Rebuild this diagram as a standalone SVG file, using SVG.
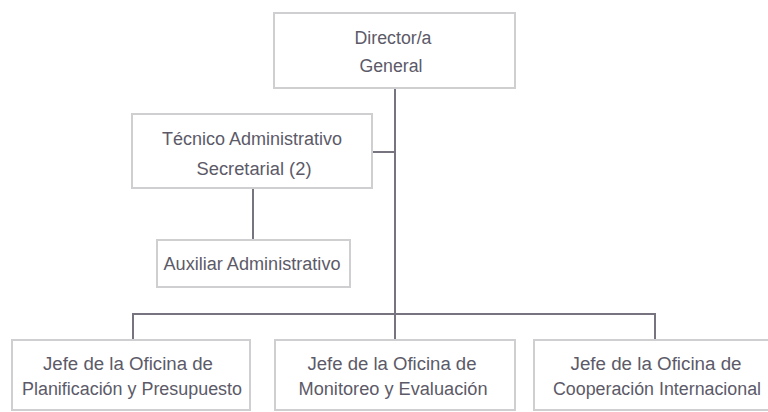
<svg xmlns="http://www.w3.org/2000/svg" width="768" height="412" viewBox="0 0 768 412">
<style>
.box{fill:#ffffff;stroke:#cfcfd2;stroke-width:2}
.ln{fill:none;stroke:#77737f;stroke-width:2}
.t{font-family:"Liberation Sans",Arial,sans-serif;font-size:18px;fill:#5c5a68;text-anchor:middle}
</style>
<rect width="768" height="412" fill="#ffffff"/>
<g id="connectors">
<path class="ln" d="M395 88 V340"/>
<path class="ln" d="M372 152 H395"/>
<path class="ln" d="M253 188 V240"/>
<path class="ln" d="M133 340 V314 H655 V340"/>
</g>
<g id="director">
<rect class="box" x="274" y="13" width="241" height="75"/>
<text class="t" x="393" y="44" textLength="77" lengthAdjust="spacingAndGlyphs">Director/a</text>
<text class="t" x="391" y="72" textLength="63" lengthAdjust="spacingAndGlyphs">General</text>
</g>
<g id="tecnico">
<rect class="box" x="132" y="114" width="240" height="74"/>
<text class="t" x="252" y="145" textLength="180" lengthAdjust="spacingAndGlyphs">Técnico Administrativo</text>
<text class="t" x="254" y="175" textLength="115" lengthAdjust="spacingAndGlyphs">Secretarial (2)</text>
</g>
<g id="auxiliar">
<rect class="box" x="157" y="240" width="193" height="47"/>
<text class="t" x="252" y="270" textLength="177" lengthAdjust="spacingAndGlyphs">Auxiliar Administrativo</text>
</g>
<g id="planificacion">
<rect class="box" x="12" y="340" width="238" height="70"/>
<text class="t" x="128" y="370" textLength="170" lengthAdjust="spacingAndGlyphs">Jefe de la Oficina de</text>
<text class="t" x="132" y="395" textLength="220" lengthAdjust="spacingAndGlyphs">Planificación y Presupuesto</text>
</g>
<g id="monitoreo">
<rect class="box" x="275" y="340" width="240" height="70"/>
<text class="t" x="392" y="370" textLength="169" lengthAdjust="spacingAndGlyphs">Jefe de la Oficina de</text>
<text class="t" x="393" y="395" textLength="189" lengthAdjust="spacingAndGlyphs">Monitoreo y Evaluación</text>
</g>
<g id="cooperacion">
<rect class="box" x="534" y="340" width="240" height="70"/>
<text class="t" x="656" y="370" textLength="171" lengthAdjust="spacingAndGlyphs">Jefe de la Oficina de</text>
<text class="t" x="657" y="395" textLength="208" lengthAdjust="spacingAndGlyphs">Cooperación Internacional</text>
</g>
</svg>
